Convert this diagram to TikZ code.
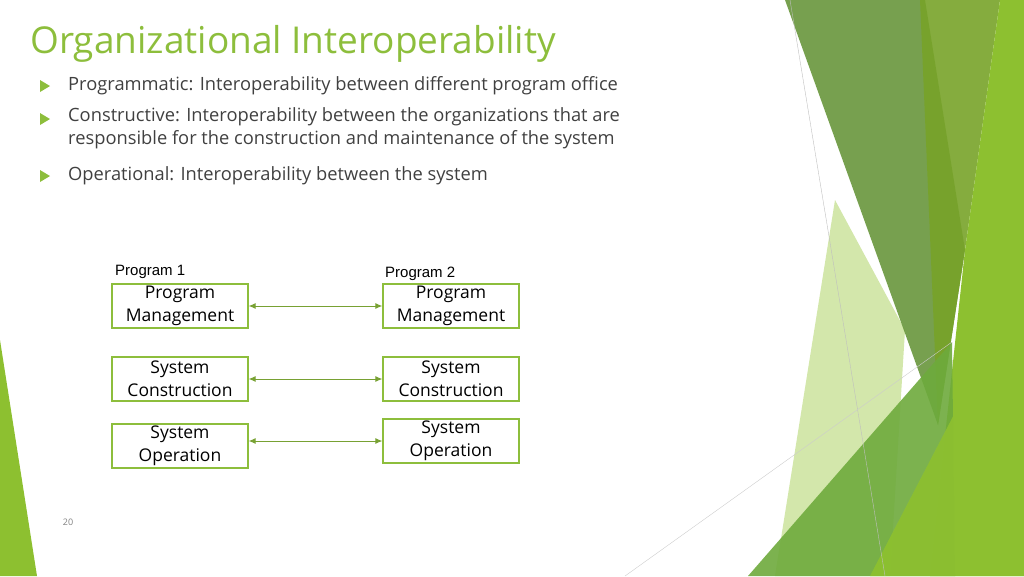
\documentclass[tikz,border=0pt]{standalone}
\usepackage{fontspec}
\setmainfont{Open Sans}
\newfontfamily\arialfont{Liberation Sans}
\definecolor{titlegreen}{RGB}{141,190,60}
\definecolor{textgray}{RGB}{64,64,64}
\definecolor{darkband}{RGB}{104,150,60}
\definecolor{brightband}{RGB}{141,192,48}
\definecolor{paleband}{RGB}{200,225,150}
\definecolor{midband}{RGB}{110,170,60}
\tikzset{
  pbox/.style={draw, color=titlegreen, line width=1.3pt, minimum width=136pt, minimum height=44pt, inner sep=0pt, align=center, font=\fontsize{17.5}{23}\selectfont, text=black},
  plabel/.style={anchor=south west, inner sep=0pt, font=\arialfont\fontsize{15}{18}\selectfont},
  link/.style={draw=titlegreen!85!black, line width=0.9pt, {Latex[length=7pt,width=6pt]}-{Latex[length=7pt,width=6pt]}},
  bullet/.style={fill=titlegreen, draw=none},
  btext/.style={anchor=west, inner sep=0pt, align=left, text=textgray, font=\fontsize{18.3}{23}\selectfont}
}
\usetikzlibrary{arrows.meta}
\begin{document}
\begin{tikzpicture}[x=1pt,y=-1pt]
        \useasboundingbox (0,0) rectangle (1024,576);
        
        %Background bands
        \fill [paleband, opacity=0.8] (835,200) -- (905,330) -- (890,576) -- (775,576) -- cycle ;
        \fill [darkband, opacity=0.9] (785,0) -- (925,0) -- (965,250) -- (938,425) -- cycle ;
        \fill [brightband!85!black, opacity=0.9] (920,0) -- (1000,0) -- (965,250) -- (938,425) -- cycle ;
        \fill [brightband] (1000,0) -- (1024,0) -- (1024,576) -- (930,576) -- (965,250) -- cycle ;
        \fill [midband, opacity=0.9] (748,576) -- (952,342) -- (955,576) -- cycle ;
        \fill [brightband, opacity=0.95] (870,576) -- (1024,280) -- (1024,576) -- cycle ;
        \fill [brightband] (0,340) -- (37,576) -- (0,576) -- cycle ;
        %Thin lines
        \draw [gray!50, line width=0.4pt] (790,0) -- (885,576) ;
        \draw [gray!40, line width=0.4pt] (625,576) -- (952,342) ;
        
        % Title
        \node (title) [anchor=west, inner sep=0pt, text=titlegreen, font=\fontsize{37}{40}\selectfont] at (30,44) {Organizational Interoperability};
        % Bullets
        \foreach \y in {86,119,176}
          \fill [bullet] (40,\y-6) -- (50,\y) -- (40,\y+6) -- cycle ;
        \node (b1) [btext] at (68,86) {Programmatic: Interoperability between different program office};
        \node (b2) [btext, anchor=north west] at (68,107) {Constructive: Interoperability between the organizations that are\\responsible for the construction and maintenance of the system};
        \node (b3) [btext] at (68,176) {Operational: Interoperability between the system};
        
        % Boxes
        \node (pm1) [pbox] at (180,306) {Program\\Management};
        \node (pm2) [pbox] at (451,306) {Program\\Management};
        \node (sc1) [pbox] at (180,379) {System\\Construction};
        \node (sc2) [pbox] at (451,379) {System\\Construction};
        \node (so1) [pbox] at (180,446) {System\\Operation};
        \node (so2) [pbox] at (451,441) {System\\Operation};
        % Labels
        \node (prog1) [plabel] at (115,279) {Program 1};
        \node (prog2) [plabel] at (385,281) {Program 2};
        % Links
        \draw [link] (pm1.east) -- (pm2.west) ;
        \draw [link] (sc1.east) -- (sc2.west) ;
        \draw [link] (so1.east |- so2.west) -- (so2.west) ;
        
        % Page number
        \node (page) [inner sep=0pt, text=gray, font=\fontsize{9}{10}\selectfont] at (68,522) {20};
\end{tikzpicture}
\end{document}
